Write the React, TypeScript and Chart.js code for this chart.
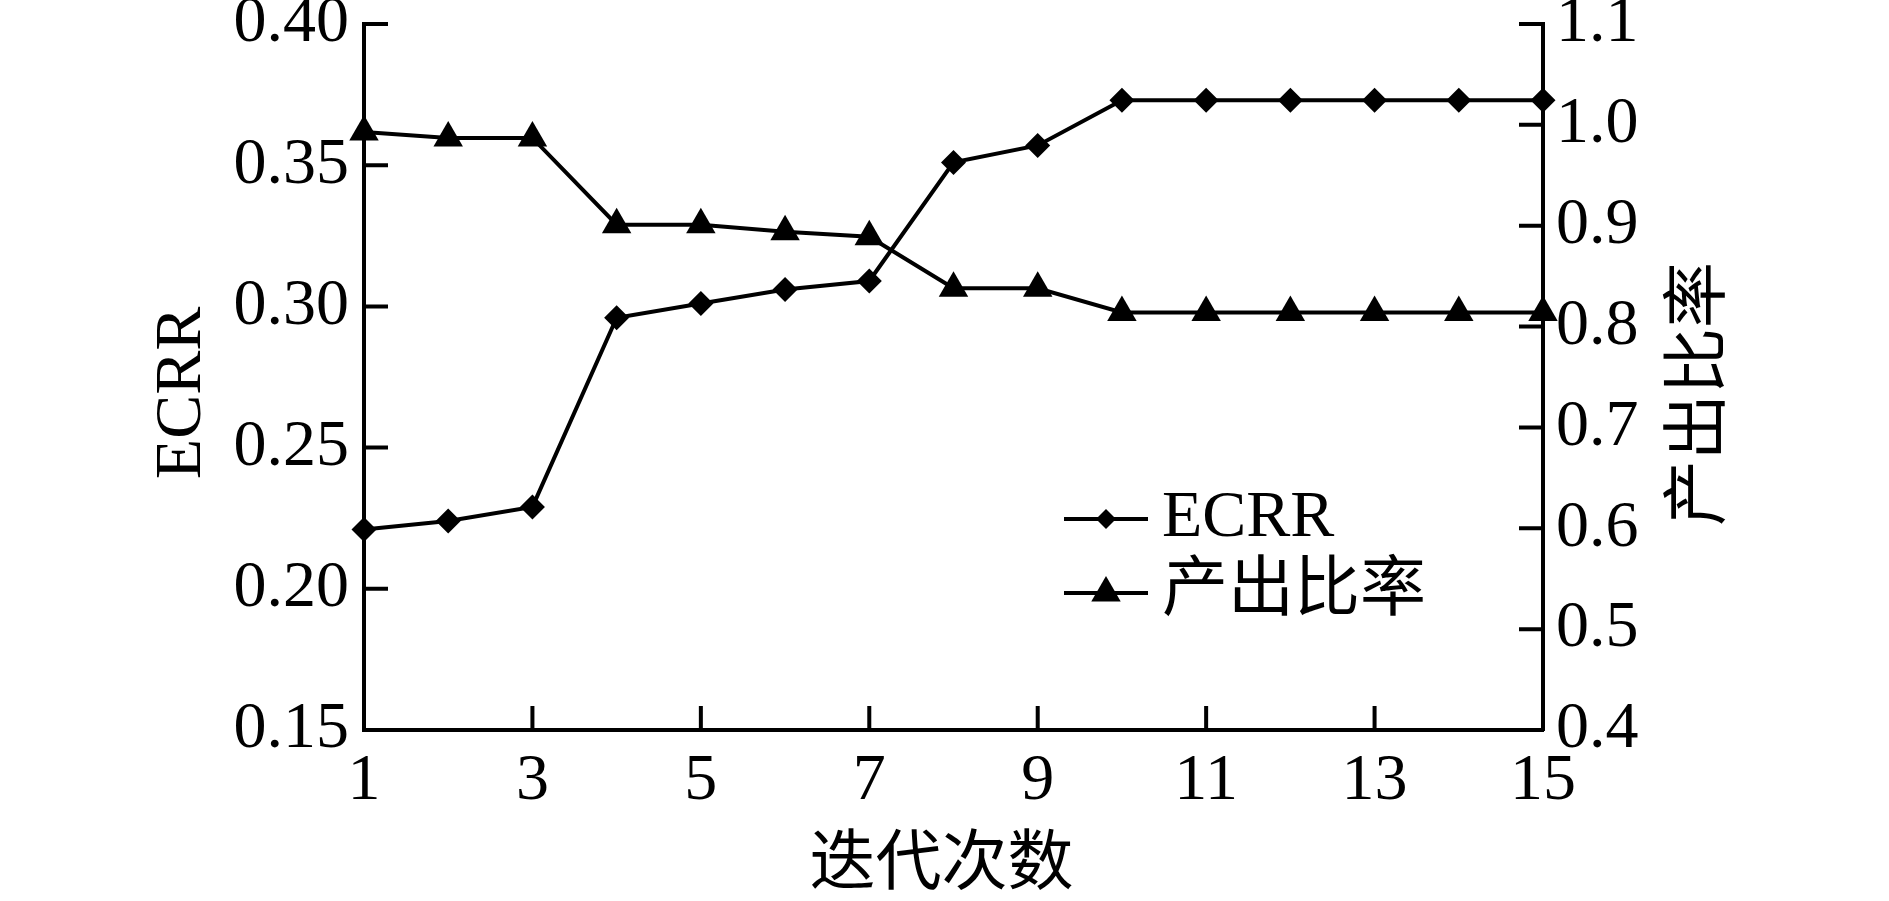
import React, { useEffect, useRef } from 'react';
import { Chart, registerables } from 'chart.js';

Chart.register(...registerables);

// ---- data ----
const iterations = [1, 2, 3, 4, 5, 6, 7, 8, 9, 10, 11, 12, 13, 14, 15];
const ecrrValues = [0.221, 0.224, 0.229, 0.296, 0.301, 0.306, 0.309, 0.351, 0.357, 0.373, 0.373, 0.373, 0.373, 0.373, 0.373];
const outputRatioValues = [0.993, 0.987, 0.987, 0.901, 0.901, 0.894, 0.889, 0.838, 0.838, 0.814, 0.814, 0.814, 0.814, 0.814, 0.814];

const ecrrLabel = 'ECRR';
const ratioLabel = '产出比率';
const xAxisTitle = '迭代次数';
const leftAxisTitle = 'ECRR';
const rightAxisTitle = '产出比率';

const xRange = [1, 15];
const xStep = 2;
const leftRange = [0.15, 0.4];
const leftStep = 0.05;
const rightRange = [0.4, 1.1];
const rightStep = 0.1;

// ---- style ----
const W = 1889;
const H = 901;
const FONT = '"Liberation Serif", "Times New Roman", "Noto Sans CJK SC", serif';
const FS = 66;
const LW = 4;
const TICK_LEN = 24;

function drawMarker(ctx: CanvasRenderingContext2D, style: string, r: number, x: number, y: number) {
  ctx.beginPath();
  if (style === 'triangle') {
    for (let i = 0; i < 3; i++) {
      const a = -Math.PI / 2 + (i * 2 * Math.PI) / 3;
      const px = x + Math.cos(a) * r;
      const py = y + Math.sin(a) * r;
      if (i === 0) ctx.moveTo(px, py);
      else ctx.lineTo(px, py);
    }
  } else {
    ctx.moveTo(x - r, y);
    ctx.lineTo(x, y - r);
    ctx.lineTo(x + r, y);
    ctx.lineTo(x, y + r);
  }
  ctx.closePath();
  ctx.fill();
}

const legendMarkerRadius = [10, 17];

const decorPlugin = {
  id: 'decor',
  beforeDatasetsDraw(chart: any) {
    const { ctx } = chart;
    const { left, right, bottom } = chart.chartArea;
    const xs = chart.scales.x;
    const yl = chart.scales.y;
    const yr = chart.scales.y1;
    ctx.save();
    ctx.strokeStyle = '#000';
    ctx.lineWidth = LW;
    ctx.beginPath();
    xs.ticks.forEach((t: any) => {
      const px = xs.getPixelForValue(t.value);
      if (Math.abs(px - left) < 2 || Math.abs(px - right) < 2) return;
      ctx.moveTo(px, bottom);
      ctx.lineTo(px, bottom - TICK_LEN);
    });
    yl.ticks.forEach((t: any) => {
      const py = yl.getPixelForValue(t.value);
      if (Math.abs(py - bottom) < 2) return;
      ctx.moveTo(left, py);
      ctx.lineTo(left + TICK_LEN, py);
    });
    yr.ticks.forEach((t: any) => {
      const py = yr.getPixelForValue(t.value);
      if (Math.abs(py - bottom) < 2) return;
      ctx.moveTo(right, py);
      ctx.lineTo(right - TICK_LEN, py);
    });
    ctx.stroke();
    ctx.restore();
  },
  afterDraw(chart: any) {
    const { ctx } = chart;
    const { left, right, top, bottom } = chart.chartArea;
    const midY = (top + bottom) / 2;
    ctx.save();
    ctx.fillStyle = '#000';
    ctx.font = `${FS}px ${FONT}`;
    ctx.textAlign = 'center';
    ctx.textBaseline = 'middle';
    // left title
    ctx.save();
    ctx.translate(left - 181, midY + 16);
    ctx.rotate(-Math.PI / 2);
    ctx.fillText(leftAxisTitle, 0, 0);
    ctx.restore();
    // right title
    ctx.save();
    ctx.translate(right + 159, midY + 17);
    ctx.rotate(-Math.PI / 2);
    ctx.fillText(rightAxisTitle, 0, 0);
    ctx.restore();
    // x title
    ctx.fillText(xAxisTitle, (left + right) / 2 - 12, bottom + 137);

    // legend
    const lx1 = left + 700;
    const lx2 = left + 784;
    const tx = left + 798;
    const rows = [top + 495, top + 569];
    ctx.textAlign = 'left';
    chart.data.datasets.forEach((ds: any, i: number) => {
      const y = rows[i];
      ctx.strokeStyle = ds.borderColor;
      ctx.lineWidth = ds.borderWidth;
      ctx.beginPath();
      ctx.moveTo(lx1, y);
      ctx.lineTo(lx2, y);
      ctx.stroke();
      ctx.fillStyle = ds.backgroundColor;
      drawMarker(ctx, ds.pointStyle, legendMarkerRadius[i], (lx1 + lx2) / 2, y);
      ctx.fillStyle = '#000';
      ctx.fillText(ds.label, tx, y);
    });
    ctx.restore();
  },
};

const tickFont = { family: FONT, size: FS };

export default function App() {
  const ref = useRef<HTMLCanvasElement | null>(null);

  useEffect(() => {
    if (!ref.current) return;
    const chart = new Chart(ref.current, {
      type: 'line',
      data: {
        datasets: [
          {
            label: ecrrLabel,
            data: iterations.map((x, i) => ({ x, y: ecrrValues[i] })),
            yAxisID: 'y',
            borderColor: '#000',
            backgroundColor: '#000',
            borderWidth: LW,
            pointStyle: 'rectRot',
            pointRadius: 12.5,
            pointBorderWidth: 0,
            pointBackgroundColor: '#000',
            tension: 0,
            clip: false,
          } as any,
          {
            label: ratioLabel,
            data: iterations.map((x, i) => ({ x, y: outputRatioValues[i] })),
            yAxisID: 'y1',
            borderColor: '#000',
            backgroundColor: '#000',
            borderWidth: LW,
            pointStyle: 'triangle',
            pointRadius: 17,
            pointBorderWidth: 0,
            pointBackgroundColor: '#000',
            tension: 0,
            clip: false,
          } as any,
        ],
      },
      options: {
        animation: false,
        responsive: false,
        devicePixelRatio: 1,
        layout: { padding: { top: 24, left: 0, right: 0, bottom: 0 } },
        plugins: { legend: { display: false }, tooltip: { enabled: false }, title: { display: false } },
        scales: {
          x: {
            type: 'linear',
            min: xRange[0],
            max: xRange[1],
            offset: false,
            grid: { display: false, drawTicks: false },
            border: { display: true, color: '#000', width: LW },
            ticks: {
              stepSize: xStep,
              autoSkip: false,
              maxRotation: 0,
              padding: 12,
              color: '#000',
              font: tickFont,
              callback: (v: any) => String(v),
            },
            afterFit: (s: any) => {
              s.height = H - 730;
              s.paddingLeft = 0;
              s.paddingRight = 0;
            },
          },
          y: {
            type: 'linear',
            position: 'left',
            min: leftRange[0],
            max: leftRange[1],
            grid: { display: false, drawTicks: false },
            border: { display: true, color: '#000', width: LW },
            ticks: {
              stepSize: leftStep,
              padding: 15,
              color: '#000',
              font: tickFont,
              callback: (v: any) => Number(v).toFixed(2),
            },
            afterFit: (s: any) => {
              s.width = 364;
              s.paddingTop = 0;
              s.paddingBottom = 0;
            },
          },
          y1: {
            type: 'linear',
            position: 'right',
            min: rightRange[0],
            max: rightRange[1],
            grid: { display: false, drawTicks: false },
            border: { display: true, color: '#000', width: LW },
            ticks: {
              stepSize: rightStep,
              padding: 13,
              color: '#000',
              font: tickFont,
              callback: (v: any) => Number(v).toFixed(1),
            },
            afterFit: (s: any) => {
              s.width = W - 1543;
              s.paddingTop = 0;
              s.paddingBottom = 0;
            },
          },
        },
      } as any,
      plugins: [decorPlugin],
    });
    return () => chart.destroy();
  }, []);

  return (
    <div style={{ position: 'absolute', left: 0, top: 0, width: W, height: H, background: '#fff' }}>
      <canvas ref={ref} width={W} height={H} style={{ display: 'block', width: W, height: H }} />
    </div>
  );
}
